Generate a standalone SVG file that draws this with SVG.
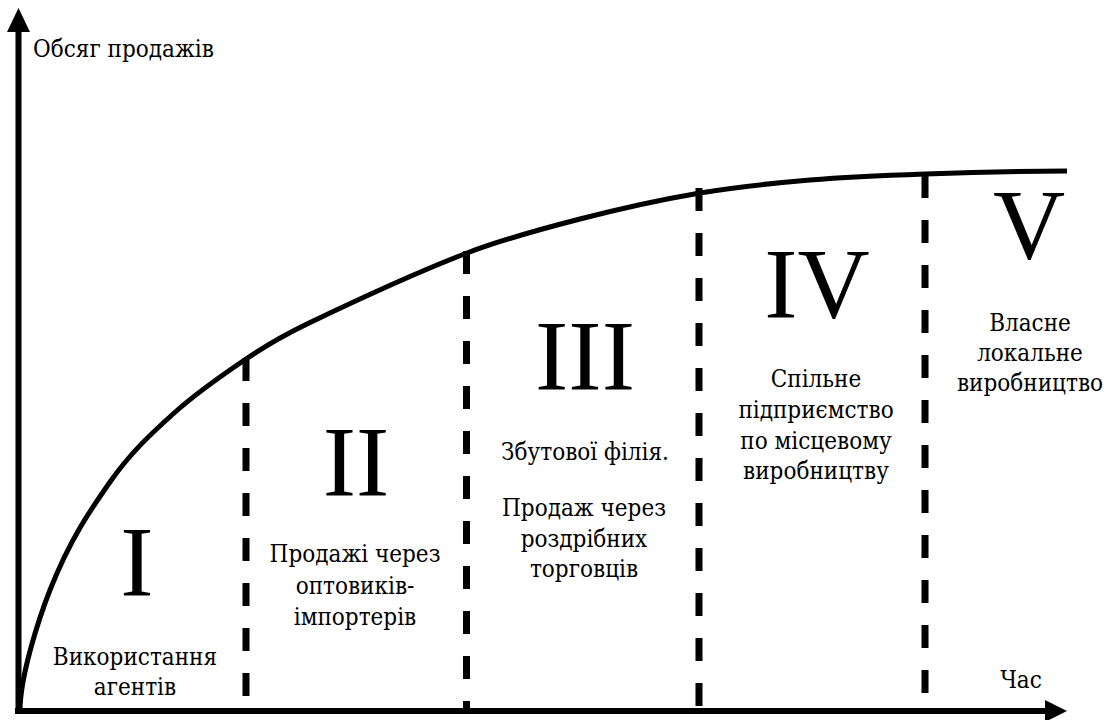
<svg xmlns="http://www.w3.org/2000/svg" width="1107" height="720" viewBox="0 0 1107 720">
<style>
.t{font-family:"DejaVu Serif Condensed","DejaVu Serif","Liberation Serif",serif;font-stretch:condensed;fill:#000;text-anchor:middle}
.rn{font-family:"Liberation Serif",serif;font-stretch:normal;font-size:100px}
.lbl{font-size:24px}
.ax{font-size:24px}
.axis{stroke:#000;stroke-width:6;fill:none}
.curve{stroke:#000;stroke-width:5;fill:none}
.dash{stroke:#000;stroke-width:7;stroke-dasharray:23 22;fill:none}
</style>
<rect width="1107" height="720" fill="#fff"/>
<g id="connectors">
<line class="axis" x1="18.5" y1="714" x2="18.5" y2="30"/>
<polygon points="18.5,8 7,32 30,32" fill="#000"/>
<line class="axis" x1="15" y1="711" x2="1047" y2="711"/>
<polygon points="1067,711 1045,700 1045,722" fill="#000"/>
<path id="curve" class="curve" d="M20,711 C20,675 40,615.4 50,590 C70,539.2 90,510.6 110,482 C131,452 152,433 173,414 C197.3,392 221.7,375.4 246,359 C266.3,345.3 286.7,333.8 307,324 C360.3,298.4 413.7,273.5 467,253 C504.7,238.5 542.3,228.7 580,219 C620,208.7 660,199.8 700,193 C736.7,186.8 773.3,183.1 810,180 C848.3,176.8 886.7,175.3 925,174 C972.3,172.3 1019.7,171.2 1067,171"/>
<line class="dash" x1="246" y1="358" x2="246" y2="711"/>
<line class="dash" x1="466.5" y1="251" x2="466.5" y2="711"/>
<line class="dash" x1="699" y1="188" x2="699" y2="711"/>
<line class="dash" x1="925" y1="175" x2="925" y2="711"/>
</g>
<g id="axis-labels">
<text class="t ax" x="33" y="57" style="text-anchor:start">Обсяг продажів</text>
<text class="t ax" x="1021" y="688">Час</text>
</g>
<g id="stage-1">
<text class="t rn" x="137" y="595">I</text>
<text class="t lbl" x="135" y="665">Використання</text>
<text class="t lbl" x="135" y="695">агентів</text>
</g>
<g id="stage-2">
<text class="t rn" x="356" y="495">II</text>
<text class="t lbl" x="355" y="562">Продажі через</text>
<text class="t lbl" x="355" y="594">оптовиків-</text>
<text class="t lbl" x="355" y="625">імпортерів</text>
</g>
<g id="stage-3">
<text class="t rn" x="585" y="389">III</text>
<text class="t lbl" x="585" y="460">Збутової філія.</text>
<text class="t lbl" x="584" y="516">Продаж через</text>
<text class="t lbl" x="584" y="547">роздрібних</text>
<text class="t lbl" x="584" y="577">торговців</text>
</g>
<g id="stage-4">
<text class="t rn" x="817" y="317">IV</text>
<text class="t lbl" x="816" y="387">Спільне</text>
<text class="t lbl" x="816" y="418">підприємство</text>
<text class="t lbl" x="816" y="449">по місцевому</text>
<text class="t lbl" x="816" y="479">виробництву</text>
</g>
<g id="stage-5">
<text class="t rn" x="1029" y="258">V</text>
<text class="t lbl" x="1030" y="331">Власне</text>
<text class="t lbl" x="1030" y="361">локальне</text>
<text class="t lbl" x="1030" y="391">виробництво</text>
</g>
</svg>
